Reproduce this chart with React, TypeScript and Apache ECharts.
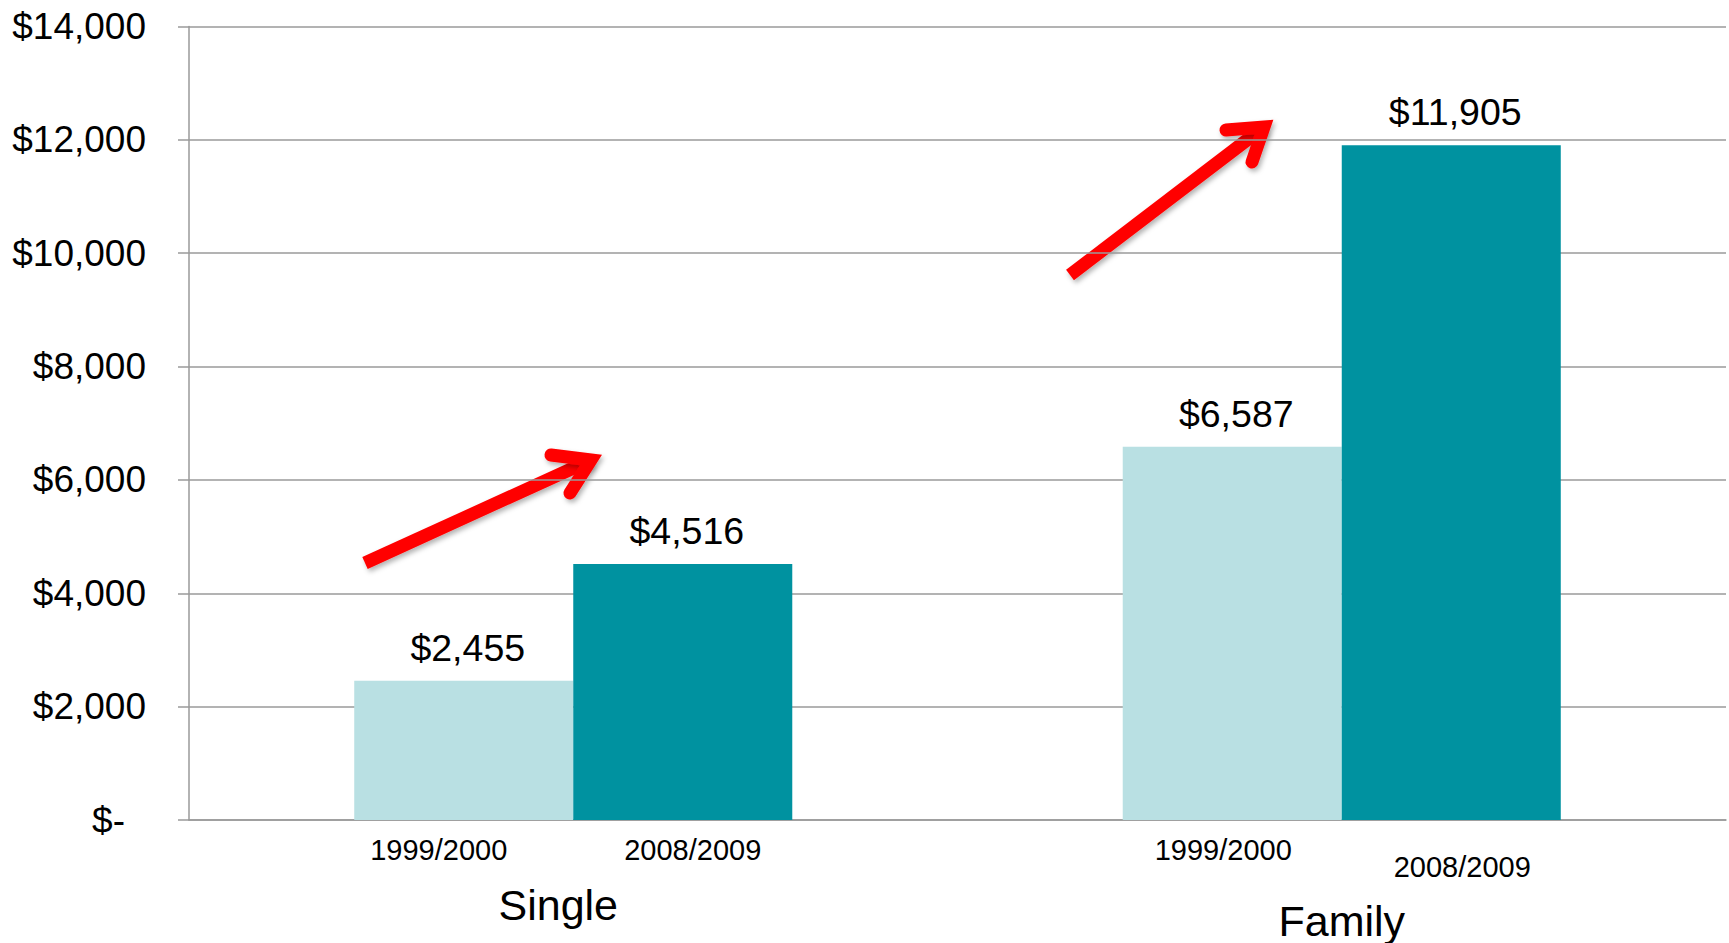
import { useEffect, useRef } from 'react';
import * as echarts from 'echarts';

const groups = ['Single', 'Family'];
const periods = ['1999/2000', '2008/2009'];
const costs19992000 = [2455, 6587];
const costs20082009 = [4516, 11905];
const yMin = 0;
const yMax = 14000;
const yStep = 2000;

const FONT = '"Liberation Sans", Arial, Helvetica, sans-serif';
const LIGHT = '#B9E0E3';
const DARK = '#0092A0';
const GRID = '#9a9a9a';
const RED = '#FF0000';

const money = (v: number) => (v === 0 ? '$-' : '$' + v.toLocaleString('en-US'));

// per-item offsets of the period labels under the bars (layout only)
const periodOffsets = [
  [[-25, 0], [-9, 0]],
  [[10, 0], [11, 17]],
];

export default function App() {
  const ref = useRef<HTMLDivElement>(null);

  useEffect(() => {
    if (!ref.current) return;
    const chart = echarts.init(ref.current, null, { renderer: 'svg' });

    const valueSeries = [costs19992000, costs20082009];
    const colors = [LIGHT, DARK];
    const series: any[] = [];
    periods.forEach((p, k) => {
      series.push({
        name: p + ' label',
        type: 'bar',
        stack: 's' + k,
        silent: true,
        barGap: '0%',
        barCategoryGap: '43%',
        itemStyle: { color: 'rgba(0,0,0,0)' },
        data: groups.map((_, i) => ({ value: 0, label: { offset: periodOffsets[k][i] } })),
        label: {
          show: true,
          position: 'bottom',
          distance: 15,
          formatter: p,
          fontSize: 29,
          fontFamily: FONT,
          color: '#000',
        },
      });
      series.push({
        name: p,
        type: 'bar',
        stack: 's' + k,
        barGap: '0%',
        barCategoryGap: '43%',
        itemStyle: { color: colors[k] },
        data: valueSeries[k],
        label: {
          show: true,
          position: 'top',
          distance: 14,
          offset: [4, 0],
          fontSize: 37.5,
          fontFamily: FONT,
          color: '#000',
          formatter: (pp: any) => money(pp.value),
        },
      });
    });

    const arrowStyle = {
      stroke: RED,
      lineWidth: 13,
      fill: null,
      shadowBlur: 5,
      shadowColor: 'rgba(0,0,0,0.3)',
      shadowOffsetX: 2,
      shadowOffsetY: 3,
    };

    chart.setOption({
      animation: false,
      backgroundColor: '#ffffff',
      grid: { left: 189, right: 3, top: 26.5, bottom: 123, containLabel: false },
      xAxis: {
        type: 'category',
        data: groups,
        axisLine: { show: true, lineStyle: { color: GRID, width: 1.5 } },
        axisTick: { show: false },
        axisLabel: {
          interval: 0,
          margin: 63,
          color: '#000',
          fontFamily: FONT,
          fontSize: 43,
          formatter: (v: string) => (v === groups[0] ? '{s|' + v + '}' : '{f|' + v + '}'),
          rich: {
            s: { fontSize: 43, fontFamily: FONT, color: '#000', padding: [0, 30, 0, 0] },
            f: { fontSize: 43, fontFamily: FONT, color: '#000', padding: [16, 0, 0, 0] },
          },
        },
      },
      yAxis: {
        type: 'value',
        min: yMin,
        max: yMax,
        interval: yStep,
        axisLine: { show: true, lineStyle: { color: GRID, width: 1.5 } },
        axisTick: { show: true, length: 11, lineStyle: { color: GRID, width: 1.5 } },
        splitLine: { show: true, lineStyle: { color: GRID, width: 1.5 } },
        axisLabel: {
          margin: 43,
          color: '#000',
          fontFamily: FONT,
          fontSize: 37,
          formatter: (v: number) => (v === 0 ? '{d|$-}' : money(v)),
          rich: {
            d: { fontSize: 37, fontFamily: FONT, color: '#000', padding: [0, 21, 0, 0] },
          },
        },
      },
      series,
      graphic: [
        { type: 'line', shape: { x1: 365, y1: 563, x2: 591, y2: 460 }, style: { ...arrowStyle, lineCap: 'butt' } },
        {
          type: 'polyline',
          shape: { points: [[551, 455], [591, 460], [570, 493]] },
          style: { ...arrowStyle, lineCap: 'round', lineJoin: 'miter' },
        },
        { type: 'line', shape: { x1: 1070, y1: 275, x2: 1264, y2: 127 }, style: { ...arrowStyle, lineCap: 'butt' } },
        {
          type: 'polyline',
          shape: { points: [[1226, 130], [1264, 127], [1252, 162]] },
          style: { ...arrowStyle, lineCap: 'round', lineJoin: 'miter' },
        },
      ],
    });

    return () => chart.dispose();
  }, []);

  return (
    <div
      ref={ref}
      style={{ position: 'fixed', left: 0, top: 0, width: '1729px', height: '943px', background: '#fff' }}
    />
  );
}
